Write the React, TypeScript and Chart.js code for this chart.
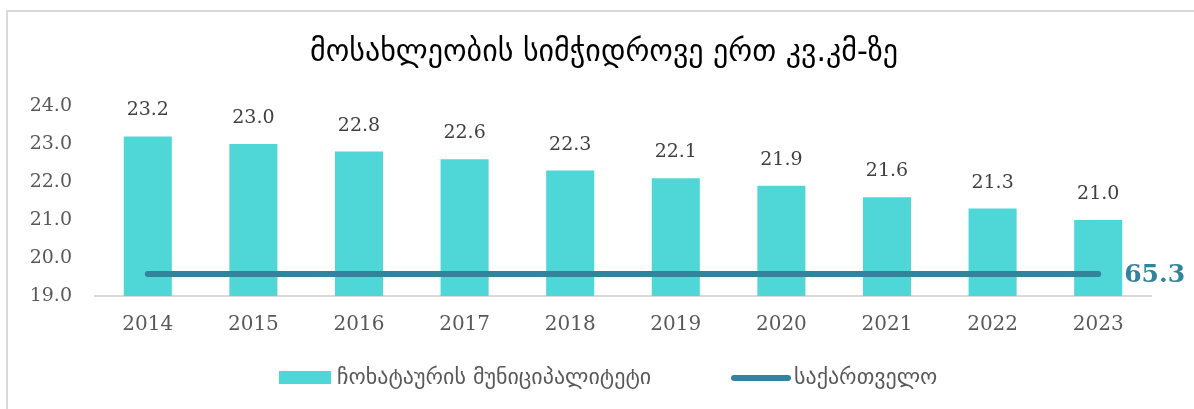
import React, { useEffect, useRef } from "react";
import { Chart, registerables } from "chart.js";

Chart.register(...registerables);

const title = "მოსახლეობის სიმჭიდროვე ერთ კვ.კმ-ზე";
const years = ["2014", "2015", "2016", "2017", "2018", "2019", "2020", "2021", "2022", "2023"];
const municipality = [23.2, 23.0, 22.8, 22.6, 22.3, 22.1, 21.9, 21.6, 21.3, 21.0];
const georgia = [65.3, 65.3, 65.3, 65.3, 65.3, 65.3, 65.3, 65.3, 65.3, 65.3];
const seriesNames = ["ჩოხატაურის მუნიციპალიტეტი", "საქართველო"];
const georgiaLabel = "65.3";

const BAR = "#4fd6d6";
const LINE = "#31849b";
const TXT = "#595959";
const SERIF = "'DejaVu Serif', serif";
const SANS = "'DejaVu Sans', sans-serif";

const overlay = {
  id: "overlay",
  afterDatasetsDraw(chart: any) {
    const ctx = chart.ctx;
    ctx.save();
    // bar value labels
    const barMeta = chart.getDatasetMeta(0);
    ctx.font = `19px ${SERIF}`;
    ctx.fillStyle = "#404040";
    ctx.textAlign = "center";
    ctx.textBaseline = "middle";
    barMeta.data.forEach((el: any, i: number) => {
      ctx.fillText(municipality[i].toFixed(1), el.x, el.y - 26);
    });
    // line end label
    const lineMeta = chart.getDatasetMeta(1);
    const last = lineMeta.data[lineMeta.data.length - 1];
    ctx.font = `bold 25px ${SERIF}`;
    ctx.fillStyle = LINE;
    ctx.textAlign = "left";
    ctx.fillText(georgiaLabel, last.x + 26, last.y + 1);
    // title
    ctx.font = `30px ${SANS}`;
    ctx.fillStyle = "#000000";
    ctx.textAlign = "center";
    ctx.fillText(title, 604, 53);
    // legend
    ctx.fillStyle = BAR;
    ctx.fillRect(279, 371, 52, 13);
    ctx.font = `22px ${SANS}`;
    ctx.fillStyle = TXT;
    ctx.textAlign = "left";
    ctx.fillText(seriesNames[0], 337, 378);
    ctx.strokeStyle = LINE;
    ctx.lineWidth = 6;
    ctx.lineCap = "round";
    ctx.beginPath();
    ctx.moveTo(734, 378);
    ctx.lineTo(788, 378);
    ctx.stroke();
    ctx.fillText(seriesNames[1], 794, 378);
    ctx.restore();
  },
};

export default function App() {
  const ref = useRef<HTMLCanvasElement>(null);
  useEffect(() => {
    const chart = new Chart(ref.current!, {
      type: "bar",
      data: {
        labels: years,
        datasets: [
          {
            type: "bar",
            label: seriesNames[0],
            data: municipality,
            backgroundColor: BAR,
            barPercentage: 0.455,
            categoryPercentage: 1,
            yAxisID: "y",
            order: 2,
          },
          {
            type: "line",
            label: seriesNames[1],
            data: georgia,
            borderColor: LINE,
            backgroundColor: LINE,
            borderWidth: 6,
            borderCapStyle: "round",
            pointRadius: 0,
            yAxisID: "y2",
            order: 1,
          } as any,
        ],
      },
      options: {
        animation: false,
        responsive: false,
        maintainAspectRatio: false,
        layout: { padding: { top: 106, right: 43, left: 0, bottom: 0 } },
        plugins: {
          legend: { display: false },
          tooltip: { enabled: false },
          title: { display: false },
        },
        scales: {
          x: {
            offset: true,
            grid: { display: false, drawTicks: false },
            border: { color: "#d9d9d9", width: 2 },
            ticks: { font: { family: SERIF, size: 20 }, color: TXT, padding: 17 },
            afterFit: (s: any) => { s.height = 113; },
          },
          y: {
            min: 19,
            max: 24,
            grid: { display: false, drawTicks: false },
            border: { display: false },
            ticks: {
              stepSize: 1,
              font: { family: SERIF, size: 19 },
              color: TXT,
              padding: 23,
              callback: (v: any) => Number(v).toFixed(1),
            },
            afterFit: (s: any) => { s.width = 95; },
          },
          y2: {
            display: false,
            min: 0,
            max: 564,
          },
        },
      },
      plugins: [overlay],
    });
    return () => chart.destroy();
  }, []);
  return (
    <div style={{ position: "fixed", left: 0, top: 0, width: 1194, height: 409, background: "#fff" }}>
      <div
        style={{
          position: "absolute",
          left: 6,
          top: 10,
          right: 0,
          bottom: 0,
          borderTop: "2px solid #d9d9d9",
          borderLeft: "2px solid #d9d9d9",
        }}
      />
      <canvas ref={ref} width={1194} height={409} style={{ position: "absolute", left: 0, top: 0, width: 1194, height: 409 }} />
    </div>
  );
}
